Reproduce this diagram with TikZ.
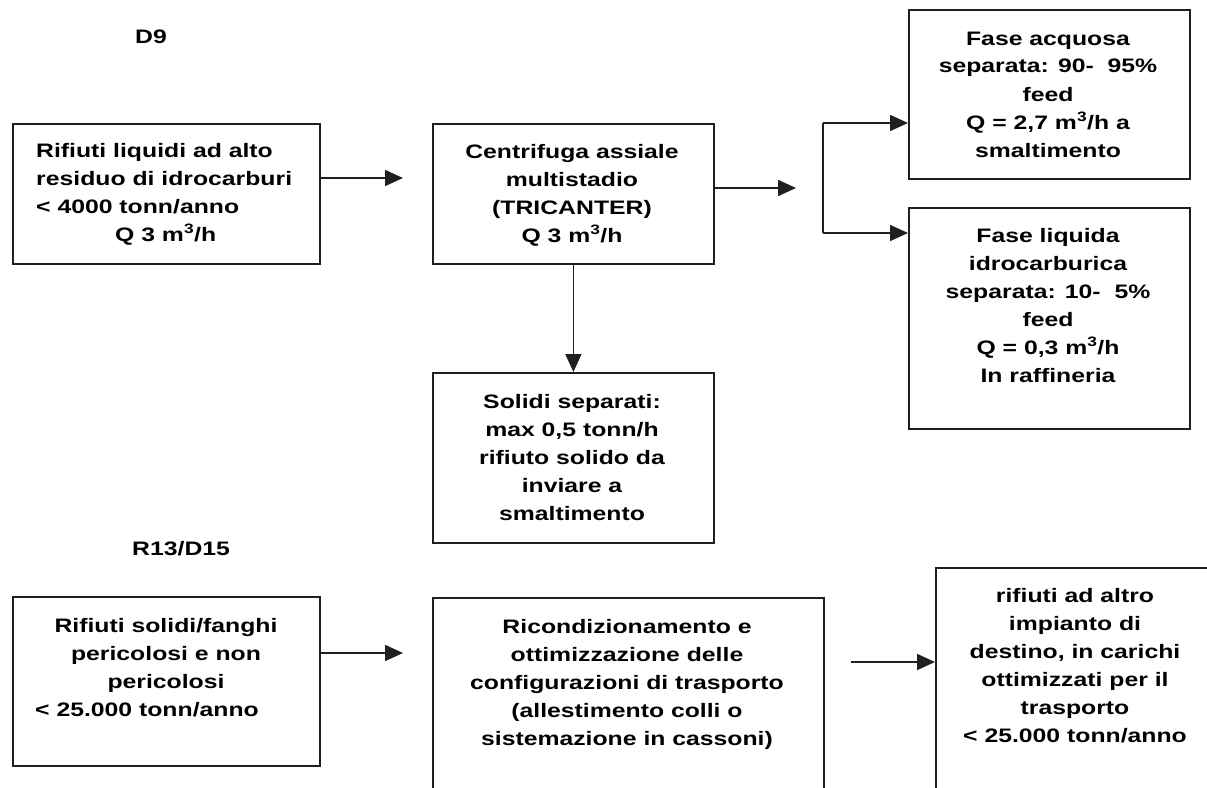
\documentclass[tikz,border=0pt]{standalone}
\usepackage{fontspec}
\setmainfont{Liberation Sans}[FakeStretch=1.27]
\usetikzlibrary{arrows.meta}
\newcommand{\ctab}[1]{\begin{tabular}[t]{@{}c@{}}#1\end{tabular}}
\newcommand{\ltab}[1]{\begin{tabular}[t]{@{}l@{}}#1\end{tabular}}
\newcommand{\mc}{m\textsuperscript{3}/h}
\begin{document}
\begin{tikzpicture}[x=1pt,y=-1pt,
  boxst/.style={draw=black!88, line width=1.8pt, inner sep=0pt, anchor=north west},
  txt/.style={inner sep=0pt, anchor=base, text=black, font=\fontsize{19.5}{28}\selectfont\bfseries},
  conn/.style={draw=black!88, line width=1.7pt},
  arr/.style={conn, -{Triangle[length=18pt,width=16pt]}}]
\useasboundingbox (0,0) rectangle (1207,787);
\clip (0,0) rectangle (1207,787);

% section labels
\node[txt, anchor=base west] (d9) at (135,43) {D9};
\node[txt, anchor=base west] (r13) at (132,555) {R13/D15};

% boxes (D9)
\node[boxst, minimum width=307pt, minimum height=140pt] (b1) at (12,123) {};
\node[boxst, minimum width=281pt, minimum height=140pt] (b2) at (432,123) {};
\node[boxst, minimum width=281pt, minimum height=170pt] (b3) at (432,372) {};
\node[boxst, minimum width=281pt, minimum height=169pt] (b4) at (908,9) {};
\node[boxst, minimum width=281pt, minimum height=221pt] (b5) at (908,207) {};

% boxes (R13/D15)
\node[boxst, minimum width=307pt, minimum height=169pt] (b6) at (12,596) {};
\node[boxst, minimum width=391pt, minimum height=230pt] (b7) at (432,597) {};
\node[boxst, minimum width=280pt, minimum height=260pt] (b8) at (935,567) {};

% texts
\node[txt, anchor=base west] (t1) at (36,157) {\ltab{Rifiuti liquidi ad alto\\residuo di idrocarburi\\< 4000 tonn/anno\\\hspace*{79pt}Q 3 \mc}};
\node[txt] (t2) at (572,158) {\ctab{Centrifuga assiale\\multistadio\\(TRICANTER)\\Q 3 \mc}};
\node[txt] (t3) at (572,408) {\ctab{Solidi separati:\\max 0,5 tonn/h\\rifiuto solido da\\inviare a\\smaltimento}};
\node[txt] (t4) at (1048,45) {\ctab{Fase acquosa\\separata: 90-~~95\%\\feed\\Q = 2,7 \mc{} a\\smaltimento}};
\node[txt] (t5) at (1048,242) {\ctab{Fase liquida\\idrocarburica\\separata: 10-~~5\%\\feed\\Q = 0,3 \mc\\In raffineria}};
\node[txt] (t6) at (166,632) {\ctab{Rifiuti solidi/fanghi\\pericolosi e non\\pericolosi\\\hspace*{-38pt}< 25.000 tonn/anno}};
\node[txt] (t7) at (627,633) {\ctab{Ricondizionamento e\\ottimizzazione delle\\configurazioni di trasporto\\(allestimento colli o\\sistemazione in cassoni)}};
\node[txt] (t8) at (1075,602) {\ctab{rifiuti ad altro\\impianto di\\destino, in carichi\\ottimizzati per il\\trasporto\\< 25.000 tonn/anno}};

% free ends / junctions
\coordinate (e1) at (403,178);
\coordinate (e2) at (796,188);
\coordinate (jt) at (823,123);
\coordinate (jb) at (823,233);
\coordinate (e6) at (403,653);
\coordinate (s7) at (851,662);

% connectors
\draw[arr] (b1.east |- e1) -- (e1);
\draw[arr] (b2.east |- e2) -- (e2);
\draw[arr] (b2.south) -- (b3.north);
\draw[conn] (jt) -- (jb);
\draw[arr] (jt) -- (b4.west |- jt);
\draw[arr] (jb) -- (b5.west |- jb);
\draw[arr] (b6.east |- e6) -- (e6);
\draw[arr] (s7) -- (b8.west |- s7);
\end{tikzpicture}
\end{document}
